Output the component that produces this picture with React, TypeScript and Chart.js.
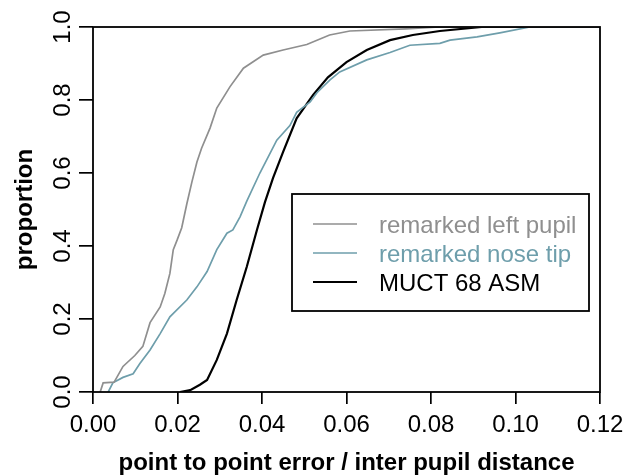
import React, { useEffect, useRef } from "react";
import { Chart, registerables } from "chart.js";

Chart.register(...registerables);

const seriesLabels = ["remarked left pupil", "remarked nose tip", "MUCT 68 ASM"];
const seriesColors = ["#8f8f8f", "#6e9eab", "#000000"];

const pupilX = [0.0017, 0.0024, 0.005, 0.0071, 0.0099, 0.0118, 0.0135, 0.0159, 0.017, 0.0182, 0.019, 0.0199, 0.021, 0.0222, 0.0234, 0.0246, 0.0257, 0.0277, 0.0293, 0.0324, 0.0356, 0.0403, 0.045, 0.0506, 0.056, 0.0608, 0.074, 0.082, 0.12];
const pupilY = [0, 0.025, 0.027, 0.07, 0.1, 0.125, 0.19, 0.233, 0.27, 0.325, 0.39, 0.416, 0.45, 0.515, 0.575, 0.63, 0.668, 0.723, 0.778, 0.836, 0.887, 0.923, 0.937, 0.952, 0.978, 0.989, 0.995, 1, 1];

const noseX = [0.0036, 0.0047, 0.0071, 0.0095, 0.0111, 0.0135, 0.0159, 0.0182, 0.0222, 0.0246, 0.027, 0.0293, 0.0317, 0.0331, 0.0348, 0.0364, 0.0395, 0.0435, 0.0466, 0.0482, 0.0514, 0.053, 0.0561, 0.0584, 0.0648, 0.0703, 0.075, 0.0821, 0.0845, 0.0909, 0.0963, 0.1034, 0.12];
const noseY = [0, 0.025, 0.04, 0.05, 0.078, 0.115, 0.16, 0.206, 0.252, 0.288, 0.33, 0.39, 0.435, 0.444, 0.48, 0.523, 0.6, 0.69, 0.73, 0.766, 0.795, 0.82, 0.855, 0.877, 0.91, 0.93, 0.95, 0.955, 0.964, 0.973, 0.984, 1, 1];

const asmX = [0.0206, 0.023, 0.0253, 0.027, 0.0293, 0.0317, 0.034, 0.0364, 0.0388, 0.0407, 0.0426, 0.045, 0.0482, 0.0521, 0.0556, 0.06, 0.0648, 0.0703, 0.0757, 0.0821, 0.092, 0.12];
const asmY = [0, 0.005, 0.02, 0.033, 0.088, 0.16, 0.252, 0.343, 0.444, 0.52, 0.586, 0.658, 0.75, 0.814, 0.862, 0.904, 0.937, 0.964, 0.978, 0.989, 1, 1];

const xTicks = [0, 0.02, 0.04, 0.06, 0.08, 0.1, 0.12];
const yTicks = [0, 0.2, 0.4, 0.6, 0.8, 1.0];

const FONT = "'Liberation Sans', Arial, Helvetica, sans-serif";

const zip = (xs: number[], ys: number[]) => xs.map((x, i) => ({ x, y: ys[i] }));

const boxAndLegend = {
  id: "boxAndLegend",
  afterDraw(chart: any) {
    const { ctx, chartArea } = chart;
    ctx.save();
    ctx.strokeStyle = "#000";
    ctx.lineWidth = 1.8;
    ctx.strokeRect(chartArea.left, chartArea.top, chartArea.right - chartArea.left, chartArea.bottom - chartArea.top);
    // legend
    const lx = 292, ly = 194, lw = 297, lh = 117;
    ctx.fillStyle = "#fff";
    ctx.fillRect(lx, ly, lw, lh);
    ctx.strokeRect(lx, ly, lw, lh);
    ctx.font = `24px ${FONT}`;
    ctx.textBaseline = "alphabetic";
    ctx.textAlign = "left";
    chart.data.datasets.forEach((ds: any, i: number) => {
      const y = 224 + i * 29;
      ctx.strokeStyle = ds.borderColor;
      ctx.lineWidth = i === 2 ? 2 : 1.7;
      ctx.beginPath();
      ctx.moveTo(313, y);
      ctx.lineTo(357, y);
      ctx.stroke();
      ctx.fillStyle = ds.borderColor;
      ctx.fillText(ds.label, 379, y + 9);
    });
    ctx.restore();
  },
};

export default function App() {
  const ref = useRef<HTMLCanvasElement>(null);
  useEffect(() => {
    if (!ref.current) return;
    const chart = new Chart(ref.current, {
      type: "line",
      data: {
        datasets: [
          { label: seriesLabels[0], data: zip(pupilX, pupilY), borderColor: seriesColors[0], borderWidth: 1.7, pointRadius: 0, tension: 0, fill: false },
          { label: seriesLabels[1], data: zip(noseX, noseY), borderColor: seriesColors[1], borderWidth: 1.7, pointRadius: 0, tension: 0, fill: false },
          { label: seriesLabels[2], data: zip(asmX, asmY), borderColor: seriesColors[2], borderWidth: 2.2, pointRadius: 0, tension: 0, fill: false },
        ],
      },
      options: {
        responsive: false,
        animation: false,
        layout: { padding: { left: 0, top: 27, right: 26, bottom: 0 } },
        plugins: { legend: { display: false }, tooltip: { enabled: false } },
        scales: {
          x: {
            type: "linear",
            min: 0,
            max: 0.12,
            afterFit: (s: any) => { s.height = 83; },
            afterBuildTicks: (s: any) => { s.ticks = xTicks.map((v) => ({ value: v })); },
            border: { display: false },
            grid: { drawOnChartArea: false, drawTicks: true, tickLength: 12, color: "#000", lineWidth: 1.7 },
            ticks: {
              color: "#000",
              font: { family: FONT, size: 24, lineHeight: 1.75 },
              padding: 0,
              maxRotation: 0,
              minRotation: 0,
              autoSkip: false,
              callback: (v: any) => Number(v).toFixed(2),
            },
            title: {
              display: true,
              text: "point to point error / inter pupil distance",
              color: "#000",
              font: { family: FONT, size: 24, weight: "bold", lineHeight: 1 },
              padding: { top: 0, bottom: 0 },
            },
          },
          y: {
            type: "linear",
            min: 0,
            max: 1,
            afterFit: (s: any) => { s.width = 93; },
            afterBuildTicks: (s: any) => { s.ticks = yTicks.map((v) => ({ value: v })); },
            border: { display: false },
            grid: { drawOnChartArea: false, drawTicks: true, tickLength: 14, color: "#000", lineWidth: 1.7 },
            ticks: {
              color: "#000",
              font: { family: FONT, size: 24, lineHeight: 1 },
              padding: -1,
              minRotation: 90,
              maxRotation: 90,
              crossAlign: "center",
              autoSkip: false,
              callback: (v: any) => Number(v).toFixed(1),
            },
            title: {
              display: true,
              text: "proportion",
              color: "#000",
              font: { family: FONT, size: 24, weight: "bold", lineHeight: 1 },
              padding: { top: 13, bottom: 0 },
            },
          },
        },
      },
      plugins: [boxAndLegend],
    });
    return () => chart.destroy();
  }, []);
  return (
    <div style={{ position: "fixed", left: 0, top: 0, width: 626, height: 475, background: "#fff" }}>
      <canvas ref={ref} width={626} height={475} style={{ display: "block" }} />
    </div>
  );
}
